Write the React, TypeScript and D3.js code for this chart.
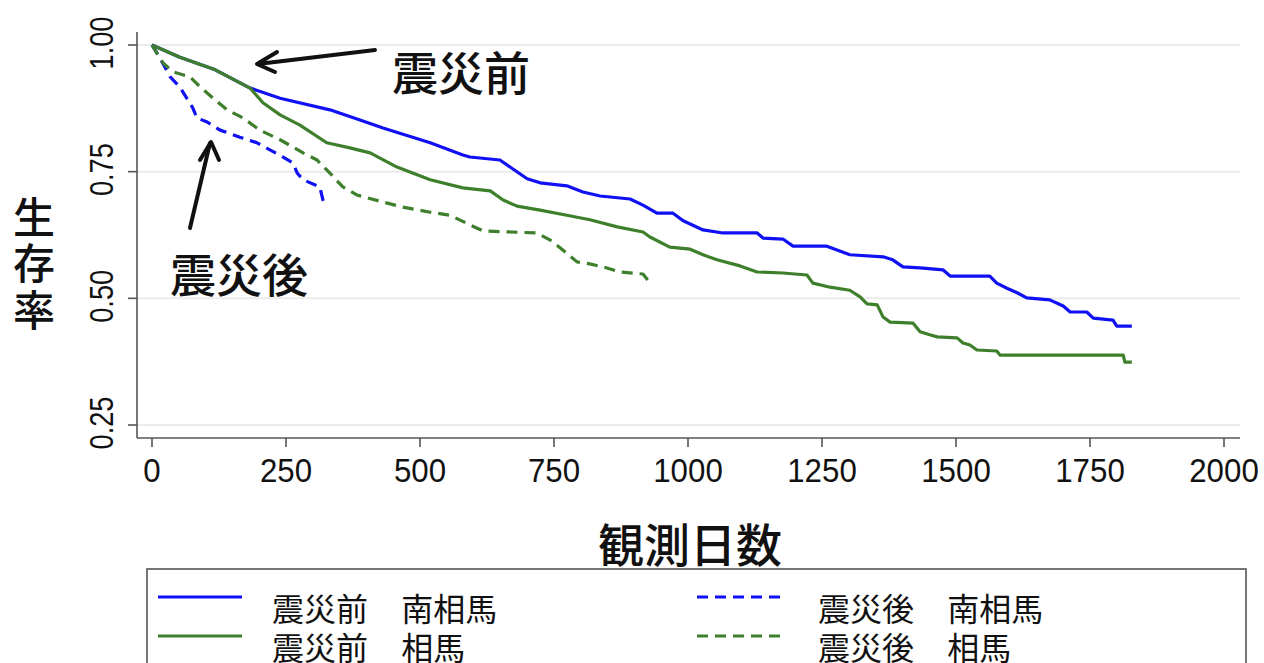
import React from 'react';
import * as d3 from 'd3';

// survival estimates: [day, survival]
const preMinamisoma: [number, number][] = [
  [0, 1.0], [52, 0.976], [118, 0.951], [183, 0.915], [239, 0.895], [332, 0.872], [388, 0.852],
  [431, 0.836], [519, 0.807], [580, 0.783], [593, 0.779], [649, 0.773], [700, 0.736], [724, 0.728],
  [774, 0.722], [804, 0.71], [836, 0.702], [892, 0.696], [916, 0.684], [942, 0.668], [972, 0.668],
  [991, 0.653], [1028, 0.635], [1065, 0.629], [1129, 0.629], [1140, 0.619], [1177, 0.617],
  [1196, 0.603], [1259, 0.603], [1302, 0.586], [1364, 0.582], [1382, 0.576], [1401, 0.562],
  [1433, 0.56], [1476, 0.556], [1489, 0.544], [1563, 0.544], [1576, 0.53], [1595, 0.52],
  [1614, 0.511], [1632, 0.501], [1675, 0.497], [1700, 0.485], [1713, 0.473], [1744, 0.473],
  [1756, 0.461], [1793, 0.457], [1800, 0.445], [1828, 0.445],
];
const preSoma: [number, number][] = [
  [0, 1.0], [52, 0.976], [118, 0.951], [183, 0.915], [207, 0.886], [239, 0.862], [276, 0.842],
  [326, 0.807], [369, 0.797], [407, 0.787], [457, 0.759], [519, 0.734], [580, 0.718], [631, 0.712],
  [655, 0.694], [681, 0.682], [724, 0.674], [774, 0.664], [817, 0.655], [868, 0.641], [916, 0.631],
  [929, 0.621], [966, 0.601], [1004, 0.597], [1028, 0.586], [1054, 0.576], [1097, 0.564],
  [1129, 0.552], [1177, 0.55], [1222, 0.546], [1233, 0.53], [1265, 0.522], [1302, 0.516],
  [1321, 0.503], [1334, 0.489], [1353, 0.487], [1364, 0.463], [1377, 0.453], [1420, 0.451],
  [1433, 0.434], [1451, 0.428], [1465, 0.424], [1502, 0.422], [1513, 0.412], [1526, 0.408],
  [1539, 0.398], [1576, 0.396], [1582, 0.388], [1812, 0.388], [1815, 0.374], [1828, 0.374],
];
const postMinamisoma: [number, number][] = [
  [0, 1.0], [15, 0.974], [34, 0.937], [52, 0.917], [76, 0.876], [84, 0.856], [103, 0.848],
  [127, 0.832], [164, 0.818], [196, 0.807], [220, 0.793], [244, 0.779], [263, 0.767], [271, 0.747],
  [282, 0.734], [313, 0.72], [319, 0.694], [323, 0.684],
];
const postSoma: [number, number][] = [
  [0, 1.0], [21, 0.964], [39, 0.947], [71, 0.937], [90, 0.917], [114, 0.895], [140, 0.872],
  [170, 0.856], [201, 0.832], [239, 0.813], [282, 0.787], [308, 0.773], [332, 0.747], [356, 0.72],
  [382, 0.704], [431, 0.69], [468, 0.68], [519, 0.67], [556, 0.664], [593, 0.645], [618, 0.633],
  [718, 0.629], [743, 0.615], [767, 0.595], [793, 0.572], [817, 0.568], [849, 0.56], [873, 0.552],
  [916, 0.548], [925, 0.536],
];

const xTicks = [0, 250, 500, 750, 1000, 1250, 1500, 1750, 2000];
const yTicks = [0.25, 0.5, 0.75, 1.0];
const yTickLabels = ['0.25', '0.50', '0.75', '1.00'];

const BLUE = '#1010f5';
const GREEN = '#3e7f2c';

const series = [
  { name: '震災前 南相馬', data: preMinamisoma, color: BLUE, dash: null },
  { name: '震災前 相馬', data: preSoma, color: GREEN, dash: null },
  { name: '震災後 南相馬', data: postMinamisoma, color: BLUE, dash: '11 7' },
  { name: '震災後 相馬', data: postSoma, color: GREEN, dash: '11 7' },
];

const CJK = '"Noto Sans CJK JP", "Noto Sans", sans-serif';
const NUM = '"Liberation Sans", Arial, sans-serif';

export default function App() {
  const x = d3.scaleLinear().domain([0, 2000]).range([152, 1224]);
  const y = d3.scaleLinear().domain([0.25, 1]).range([425, 45]);
  const line = d3.line<[number, number]>()
    .x(d => x(d[0]))
    .y(d => y(d[1]));

  const axisColor = '#555';
  const left = 137, bottom = 438, right = 1240, top = 32;

  return (
    <svg width={1264} height={663} style={{ position: 'absolute', left: 0, top: 0, background: '#fff' }}>
      {/* grid */}
      {yTicks.map(t => (
        <line key={'g' + t} x1={left} x2={right} y1={y(t)} y2={y(t)} stroke="#ebebeb" strokeWidth={2} />
      ))}
      {/* axes */}
      <line x1={left} x2={left} y1={top} y2={bottom} stroke={axisColor} strokeWidth={1.6} />
      <line x1={left} x2={right} y1={bottom} y2={bottom} stroke={axisColor} strokeWidth={1.6} />
      {yTicks.map((t, i) => (
        <g key={'y' + t}>
          <line x1={left - 9} x2={left} y1={y(t)} y2={y(t)} stroke={axisColor} strokeWidth={1.6} />
          <text transform={`translate(113,${y(t) - 2}) rotate(-90) scale(0.8,1)`} textAnchor="middle"
            fontFamily={NUM} fontSize={34} fill="#111">{yTickLabels[i]}</text>
        </g>
      ))}
      {xTicks.map(t => (
        <g key={'x' + t}>
          <line x1={x(t)} x2={x(t)} y1={bottom} y2={bottom + 9} stroke={axisColor} strokeWidth={1.6} />
          <text transform={`translate(${x(t)},482) scale(0.92,1)`} textAnchor="middle"
            fontFamily={NUM} fontSize={34} fill="#111">{t}</text>
        </g>
      ))}
      {/* curves */}
      {series.map(s => (
        <path key={s.name} d={line(s.data) || ''} fill="none" stroke={s.color} strokeWidth={3.2}
          strokeLinejoin="round" strokeDasharray={s.dash || undefined} />
      ))}
      {/* axis titles */}
      <text fontFamily={CJK} fontSize={42} fontWeight={500} fill="#111" textAnchor="middle">
        <tspan x={34} y={233}>生</tspan>
        <tspan x={34} y={279}>存</tspan>
        <tspan x={34} y={326}>率</tspan>
      </text>
      <text x={690} y={562} fontFamily={CJK} fontSize={46} fontWeight={500} fill="#111" textAnchor="middle">観測日数</text>
      {/* annotations */}
      <text x={461} y={90} fontFamily={CJK} fontSize={46} fontWeight={500} fill="#111" textAnchor="middle">震災前</text>
      <text x={239} y={292} fontFamily={CJK} fontSize={46} fontWeight={500} fill="#111" textAnchor="middle">震災後</text>
      <g stroke="#111" strokeWidth={4} fill="none" strokeLinecap="round" strokeLinejoin="round">
        <line x1={375} y1={50} x2={258} y2={64} />
        <polyline points="277,52 257,64 275,72" />
        <line x1={190} y1={228} x2={210} y2={143} />
        <polyline points="200,160 211,142 219,160" />
      </g>
      {/* legend */}
      <rect x={147} y={569} width={1099} height={120} fill="none" stroke="#555" strokeWidth={1.6} />
      {series.map((s, i) => {
        const col = i < 2 ? 0 : 1;
        const row = i % 2;
        const lx = col === 0 ? 158 : 697;
        const tx = col === 0 ? 272 : 818;
        const ly = 597 + row * 39;
        return (
          <g key={'l' + s.name}>
            <line x1={lx} x2={lx + 84} y1={ly} y2={ly} stroke={s.color} strokeWidth={3}
              strokeDasharray={s.dash || undefined} />
            <text x={tx} y={ly + 24} fontFamily={CJK} fontSize={32} fill="#111" wordSpacing={26}>{s.name}</text>
          </g>
        );
      })}
    </svg>
  );
}
